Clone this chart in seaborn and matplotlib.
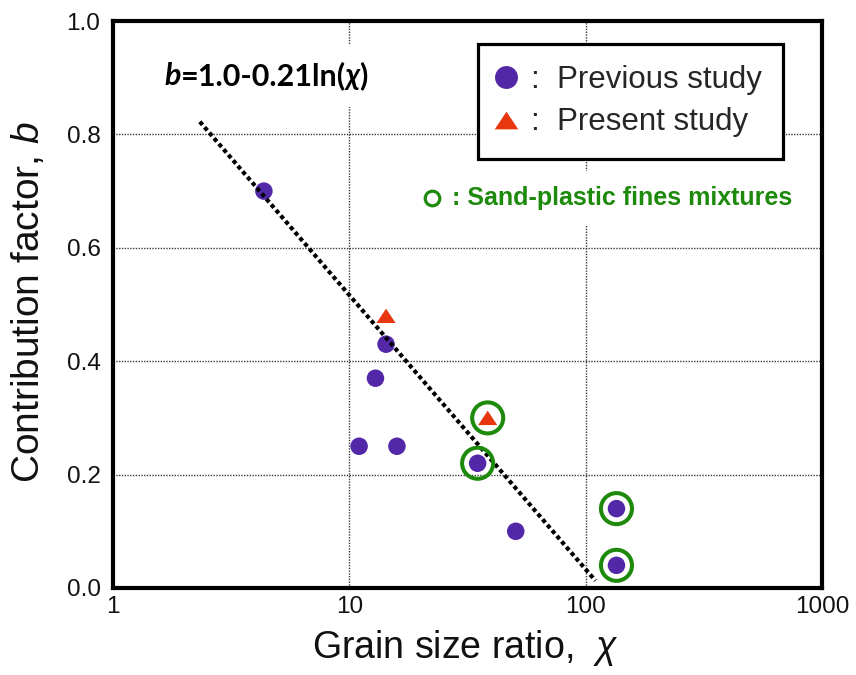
import numpy as np
import pandas as pd
import matplotlib
matplotlib.use("Agg")
import matplotlib.pyplot as plt
from matplotlib.lines import Line2D
from matplotlib.offsetbox import TextArea, HPacker, AnchoredOffsetbox
import seaborn as sns

# ---- data ----
prev_chi = [4.35, 11.0, 12.9, 14.3, 15.9, 34.9, 50.6, 135.0, 135.0]
prev_b = [0.70, 0.25, 0.37, 0.43, 0.25, 0.22, 0.10, 0.14, 0.04]
prev_plastic = [False, False, False, False, False, True, False, True, True]

pres_chi = [14.3, 38.5]
pres_b = [0.48, 0.30]
pres_plastic = [False, True]

fit_a, fit_k = 1.0, 0.21          # b = a - k ln(chi)
fit_range = [2.33, 110.0]

x_ticks = [1, 10, 100, 1000]
x_labels = ["1", "10", "100", "1000"]
y_ticks = [0.0, 0.2, 0.4, 0.6, 0.8, 1.0]
y_labels = ["0.0", "0.2", "0.4", "0.6", "0.8", "1.0"]

PURPLE = "#5328A8"
RED = "#E8360E"
GREEN = "#1D8A0C"

sns.set_theme(style="white")
plt.rcParams["font.family"] = ["Liberation Sans", "DejaVu Sans"]
plt.rcParams["mathtext.fontset"] = "custom"
plt.rcParams["mathtext.rm"] = "Liberation Sans"
plt.rcParams["mathtext.it"] = "Liberation Sans:italic"

prev = pd.DataFrame({"chi": prev_chi, "b": prev_b, "plastic": prev_plastic})
pres = pd.DataFrame({"chi": pres_chi, "b": pres_b, "plastic": pres_plastic})
ringed = pd.concat([prev[prev.plastic], pres[pres.plastic]])

fit_chi = np.array(fit_range)
fit = pd.DataFrame({"chi": fit_chi, "b": fit_a - fit_k * np.log(fit_chi)})

fig = plt.figure(figsize=(8.56, 6.75), dpi=100)
ax = fig.add_axes([113 / 856, 1 - 588 / 675, (822 - 113) / 856, (588 - 21) / 675])

ax.set_xscale("log")
ax.set_xlim(1, 1000)
ax.set_ylim(0, 1.0)

# grid
ax.set_axisbelow(True)
ax.grid(True, which="major", color="#3a3a3a", linestyle=(0, (1, 1)), linewidth=1.0)

# data points
sns.scatterplot(data=prev, x="chi", y="b", ax=ax, color=PURPLE, s=159,
                edgecolor="none", zorder=3, legend=False)
tri = [(0, 0.75), (-1, -0.75), (1, -0.75)]
sns.scatterplot(data=pres, x="chi", y="b", ax=ax, color=RED, s=190,
                marker=tri, edgecolor="none", zorder=3, legend=False)

# fitted relation
sns.lineplot(data=fit, x="chi", y="b", ax=ax, color="black", linewidth=3.0,
             linestyle=(0, (1, 0.75)), zorder=4, legend=False)
ax.lines[-1].set_dash_capstyle("butt")

# rings around sand-plastic fines mixtures
sns.scatterplot(data=ringed, x="chi", y="b", ax=ax, s=500, facecolor="none",
                edgecolor=GREEN, linewidth=2.9, zorder=5, legend=False)

# axes styling
ax.set_xticks(x_ticks)
ax.set_xticklabels(x_labels)
ax.set_yticks(y_ticks)
ax.set_yticklabels(y_labels)
ax.minorticks_off()
ax.tick_params(axis="both", length=0, labelsize=17.5, colors="#111111")
ax.tick_params(axis="y", pad=9)
ax.tick_params(axis="x", pad=6)
ax.set_xlabel("")
ax.set_ylabel("")
for sp in ax.spines.values():
    sp.set_linewidth(3.0)
    sp.set_color("black")
    sp.set_visible(True)

fig.text(465 / 856, 1 - 648 / 675, r"Grain size ratio,  $\chi$", ha="center",
         va="center", fontsize=27, color="#111111")
fig.text(29 / 856, 1 - 302 / 675, r"Contribution factor, $b$", ha="center",
         va="center", rotation=90, fontsize=28, color="#111111")

# legend
handles = [
    Line2D([], [], marker="o", ls="", color=PURPLE, markersize=16.5, markeredgewidth=0),
    Line2D([], [], marker=tri, ls="", color=RED, markersize=17, markeredgewidth=0),
]
leg = fig.legend(handles, [":  Previous study", ":  Present study"],
                 loc="upper left", bbox_to_anchor=(478 / 856, 1 - 44 / 675),
                 bbox_transform=fig.transFigure, fontsize=22.5, frameon=True,
                 fancybox=False, edgecolor="black", framealpha=1,
                 borderpad=0.68, handlelength=0.45, handletextpad=0.55,
                 labelspacing=0.39, borderaxespad=0)
leg.get_frame().set_linewidth(2.3)
leg.set_zorder(10)

# sand-plastic note (white backing only inside the plot frame)
fig.text(452 / 856, 1 - 198 / 675, ": Sand-plastic fines mixtures",
         ha="left", va="center", color=GREEN, fontsize=18, fontweight="bold",
         bbox=dict(boxstyle="square,pad=0.6", facecolor="white", edgecolor="none"),
         zorder=0.5)
fig.add_artist(Line2D([432 / 856], [1 - 198 / 675], transform=fig.transFigure,
                      marker="o", ls="", markerfacecolor="none",
                      markeredgecolor=GREEN, markeredgewidth=2.3,
                      markersize=10.5, zorder=6))

# fitted equation
eq_font = ["Lato", "DejaVu Sans"]
parts = [("b", "italic"), ("=1.0-0.21ln(", "normal"), ("χ", "italic"), (")", "normal")]
areas = [TextArea(t, textprops=dict(fontsize=22, fontweight="bold", fontstyle=st,
                                    family=eq_font, color="black"))
         for t, st in parts]
eq = HPacker(children=areas, align="baseline", pad=0, sep=0)
box = AnchoredOffsetbox(loc="center", child=eq, frameon=True, pad=1.2,
                        prop=dict(size=10),
                        bbox_to_anchor=(266 / 856, 1 - 76 / 675),
                        bbox_transform=fig.transFigure, borderpad=0)
box.patch.set_facecolor("white")
box.patch.set_edgecolor("none")
ax.add_artist(box)

fig.savefig("out.png", dpi=100)
